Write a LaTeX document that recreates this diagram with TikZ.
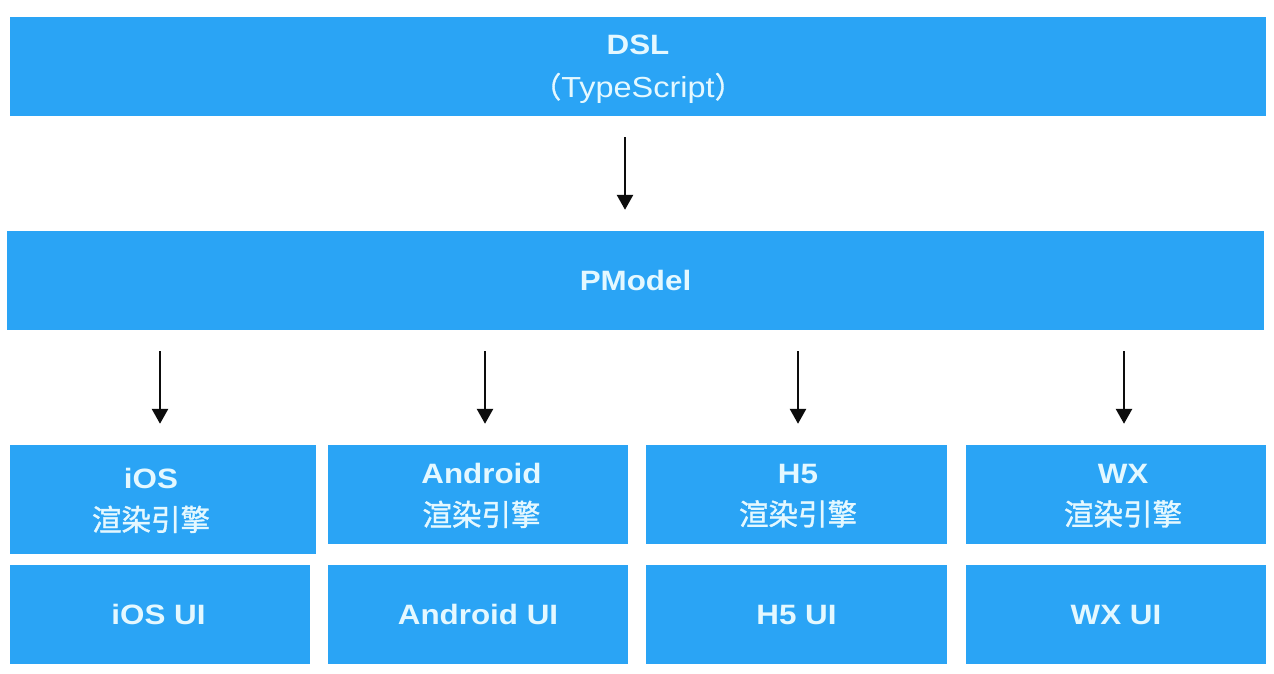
\documentclass[tikz,border=0pt]{standalone}
\usepackage{fontspec}
\setmainfont{Liberation Sans}[FakeStretch=1.12]
\newfontfamily\cjk{Noto Sans CJK SC}[FakeBold=1.2]
\usetikzlibrary{arrows.meta}
\definecolor{boxblue}{RGB}{42,164,245}
\definecolor{boxtext}{RGB}{228,248,255}
\newcommand\cjkline[1]{\smash{\mdseries\cjk\fontsize{29.5}{42}\selectfont #1}}
\begin{document}
\begin{tikzpicture}[x=1pt,y=-1pt,
  blk/.style={fill=boxblue, draw=none, inner sep=0pt, text=boxtext, align=center,
    font=\fontsize{28}{42}\selectfont\bfseries},
  wide/.style={minimum width=#1, minimum height=99pt},
  arr/.style={line width=2.7pt, draw=black!95, shorten <=21pt, shorten >=21pt,
    -{Triangle[length=15pt,width=16pt]}}]
\useasboundingbox[fill=white] (0,0) rectangle (1274,674);
% top rows
\node[blk, wide=1256pt] (dsl) at (638,66.5)
  {DSL\\[1pt]\smash{\mdseries\fontsize{29}{42}\selectfont{\cjk （}TypeScript{\cjk ）}}};
\node[blk, wide=1257pt] (pmodel) at (635.5,280.5) {PModel};
% engines
\node[blk, minimum width=306pt, minimum height=109pt] (ios) at (163,499.5)
  {iOS\hspace*{24pt}\\\cjkline{渲染引擎}\hspace*{24pt}};
\node[blk, wide=300pt] (android) at (478,494.5)
  {\hspace*{7pt}Android\\\hspace*{7pt}\cjkline{渲染引擎}};
\node[blk, wide=301pt] (h5) at (796.5,494.5)
  {\hspace*{3pt}H5\\\hspace*{3pt}\cjkline{渲染引擎}};
\node[blk, wide=300pt] (wx) at (1116,494.5)
  {\hspace*{14pt}WX\\\hspace*{14pt}\cjkline{渲染引擎}};
% UI
\node[blk, wide=300pt] (iosui) at (160,614.5) {iOS UI\hspace*{3pt}};
\node[blk, wide=300pt] (androidui) at (478,614.5) {Android UI};
\node[blk, wide=301pt] (h5ui) at (796.5,614.5) {H5 UI};
\node[blk, wide=300pt] (wxui) at (1116,614.5) {WX UI};
% arrows
\draw[arr] ([xshift=-13pt]dsl.south) -- ([xshift=-13pt]dsl.south |- pmodel.north);
\draw[arr] ([xshift=-3pt]ios.north |- pmodel.south) -- ([xshift=-3pt]ios.north);
\draw[arr] ([xshift=7pt]android.north |- pmodel.south) -- ([xshift=7pt]android.north);
\draw[arr] ([xshift=1.5pt]h5.north |- pmodel.south) -- ([xshift=1.5pt]h5.north);
\draw[arr] ([xshift=8pt]wx.north |- pmodel.south) -- ([xshift=8pt]wx.north);
\end{tikzpicture}
\end{document}
